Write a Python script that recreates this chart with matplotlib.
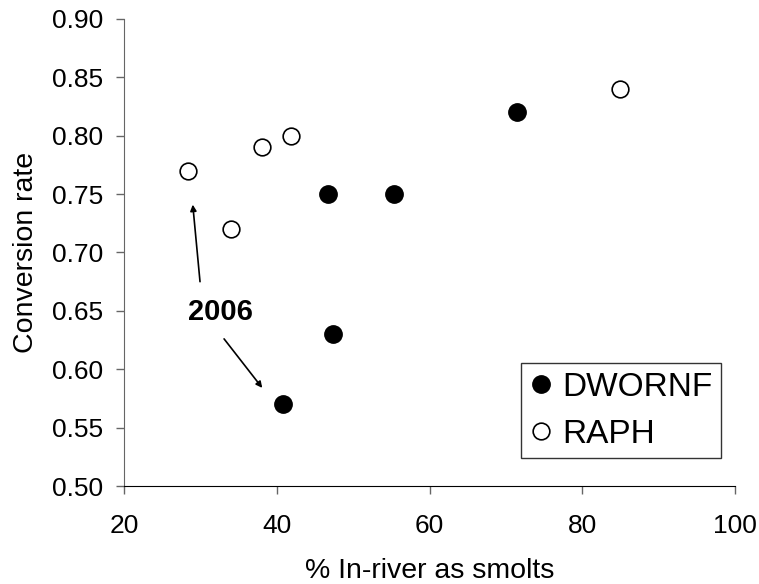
import matplotlib
matplotlib.use("Agg")
import matplotlib.pyplot as plt
from matplotlib.ticker import FormatStrFormatter, MultipleLocator

# data
dwornf_x = [40.8, 46.7, 47.3, 55.4, 71.4]
dwornf_y = [0.57, 0.75, 0.63, 0.75, 0.82]
raph_x = [28.4, 34.0, 38.1, 41.8, 85.0]
raph_y = [0.77, 0.72, 0.79, 0.80, 0.84]

# "2006" note: text position and the two arrow (tail, head) pairs
note_text = "2006"
note_xy = (32.6, 0.649)
arrow_up = ((29.95, 0.675), (29.0, 0.741))
arrow_down = ((33.1, 0.626), (38.1, 0.584))

plt.rcParams["font.family"] = ["Liberation Sans", "DejaVu Sans"]

fig = plt.figure(figsize=(7.59, 5.84), dpi=100)
ax = fig.add_axes([0.1634, 0.1678, 0.8050, 0.7997])

ax.plot(dwornf_x, dwornf_y, linestyle="none", marker="o", markersize=12.5,
        markerfacecolor="black", markeredgecolor="black", label="DWORNF")
ax.plot(raph_x, raph_y, linestyle="none", marker="o", markersize=12,
        markerfacecolor="white", markeredgecolor="black", markeredgewidth=1.2,
        label="RAPH")

ax.set_xlim(20, 100)
ax.set_ylim(0.50, 0.90)
ax.xaxis.set_major_locator(MultipleLocator(20))
ax.yaxis.set_major_locator(MultipleLocator(0.05))
ax.yaxis.set_major_formatter(FormatStrFormatter("%.2f"))

ax.spines["top"].set_visible(False)
ax.spines["right"].set_visible(False)
ax.spines["left"].set_color("#666666")
ax.spines["bottom"].set_color("black")
ax.tick_params(axis="y", direction="out", length=6, width=1, color="#666666",
               labelsize=19, pad=9)
ax.tick_params(axis="x", direction="out", length=5.5, width=1, color="#666666",
               labelsize=19, pad=15)

ax.set_xlabel("% In-river as smolts", fontsize=20.5, labelpad=14)
ax.set_ylabel("Conversion rate", fontsize=20.5, labelpad=9)

# annotation arrows
for tail, head in [arrow_up, arrow_down]:
    ax.annotate("", xy=head, xytext=tail,
                arrowprops=dict(arrowstyle="-|>", color="black", lw=1.2,
                                mutation_scale=9, shrinkA=0, shrinkB=0))
ax.text(note_xy[0], note_xy[1], note_text, fontsize=21, fontweight="bold",
        ha="center", va="center")

leg = ax.legend(loc="upper right", bbox_to_anchor=(0.977, 0.263),
                borderaxespad=0, fontsize=24, frameon=True, fancybox=False,
                edgecolor="black", handlelength=0.7, handletextpad=0.3,
                labelspacing=0.48, borderpad=0.25, markerscale=1.0)
leg.get_frame().set_linewidth(1.0)

fig.savefig("out.png", dpi=100)
